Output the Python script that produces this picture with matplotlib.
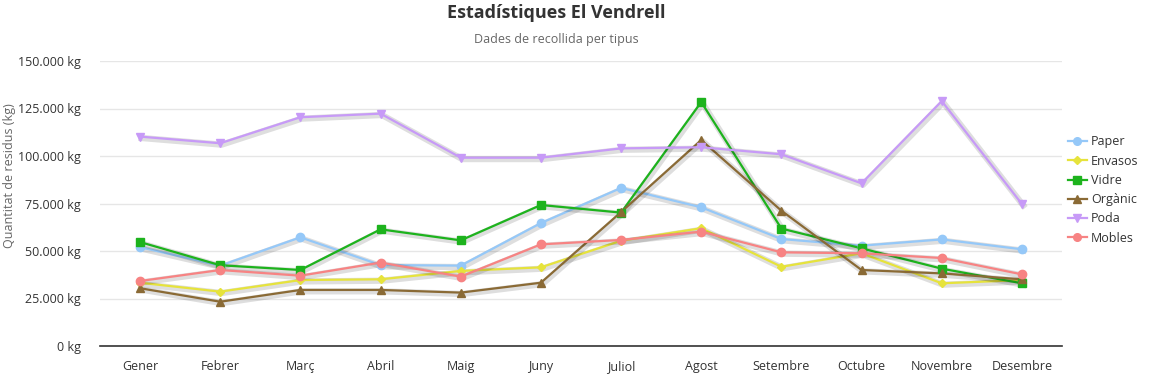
import matplotlib
matplotlib.use("Agg")
import matplotlib.pyplot as plt
import matplotlib.patheffects as pe
from matplotlib.lines import Line2D
from matplotlib.ticker import FuncFormatter, MultipleLocator

plt.rcParams['font.family'] = ['Open Sans', 'DejaVu Sans']

months = ["Gener", "Febrer", "Març", "Abril", "Maig", "Juny", "Juliol", "Agost",
          "Setembre", "Octubre", "Novembre", "Desembre"]

paper   = [52000, 42300, 57200, 42600, 42300, 64700, 83200, 73000, 56300, 52800, 56100, 50900]
envasos = [33300, 28600, 34700, 35100, 39500, 41400, 55400, 62000, 41700, 48800, 33000, 34700]
vidre   = [54700, 42500, 40000, 61400, 55600, 74200, 70200, 128400, 61800, 51400, 40700, 33000]
organic = [30400, 23300, 29500, 29500, 28100, 33300, 70500, 108400, 71200, 40000, 38200, 35100]
poda    = [110200, 106700, 120400, 122300, 99100, 99100, 104000, 104600, 100900, 85600, 128900, 74700]
mobles  = [34200, 40000, 37000, 43900, 36500, 53500, 55800, 60200, 49300, 48800, 46300, 37700]

series = [
    ("Paper", paper, "#95c8f8", "o"),
    ("Envasos", envasos, "#e6e33c", "D"),
    ("Vidre", vidre, "#1db31d", "s"),
    ("Orgànic", organic, "#8a6a35", "^"),
    ("Poda", poda, "#c79af7", "v"),
    ("Mobles", mobles, "#f78383", "o"),
]

fig = plt.figure(figsize=(11.56, 3.79), dpi=100)
ax = fig.add_axes([100/1156, 33/379, 962/1156, 285/379])

x = list(range(len(months)))
shadow = [pe.SimpleLineShadow(offset=(1, -1), shadow_color="#000000", alpha=0.13, linewidth=4.5),
          pe.Normal()]
handles = []
for name, vals, col, mk in series:
    ms = 4.5 if mk == "D" else 6
    ax.plot(x, vals, color=col, linewidth=1.6, path_effects=shadow, zorder=3)
    ax.plot(x, vals, color=col, linestyle="none", marker=mk, markersize=ms, zorder=4)
    handles.append(Line2D([0], [0], color=col, linewidth=1.6, marker=mk,
                          markersize=ms - 0.5, label=name))

ax.set_xlim(-0.5, len(months) - 0.5)
ax.set_ylim(0, 150000)
ax.yaxis.set_major_locator(MultipleLocator(25000))
ax.yaxis.set_major_formatter(FuncFormatter(lambda v, p: f"{int(v):,}".replace(",", ".") + " kg"))
ax.set_xticks(x)
ax.set_xticklabels(months)
ax.grid(axis="y", color="#e6e6e6", linewidth=1)
ax.set_axisbelow(True)
for s in ["top", "right", "left"]:
    ax.spines[s].set_visible(False)
ax.spines["bottom"].set_color("#333333")
ax.spines["bottom"].set_linewidth(1.2)
ax.tick_params(axis="both", length=0, labelsize=9, labelcolor="#333333")
ax.tick_params(axis="x", pad=10)
ax.tick_params(axis="y", pad=14)

fig.text(10/1156, 203/379, "Quantitat de residus (kg)", rotation=90,
         ha="center", va="center", fontsize=9, color="#666666")

fig.text(556/1156, 1 - 13/379, "Estadístiques El Vendrell", ha="center", va="center",
         fontsize=13, fontweight="bold", color="#333333")
fig.text(556/1156, 1 - 39/379, "Dades de recollida per tipus", ha="center", va="center",
         fontsize=9, color="#666666")

leg = fig.legend(handles=handles, loc="center left", bbox_to_anchor=(1068/1156, 1 - 190/379),
                 frameon=False, fontsize=9, handlelength=1.5, handletextpad=0.35,
                 labelspacing=0.5, borderaxespad=0, borderpad=0)
for t in leg.get_texts():
    t.set_color("#333333")

fig.savefig("out.png", dpi=100)
